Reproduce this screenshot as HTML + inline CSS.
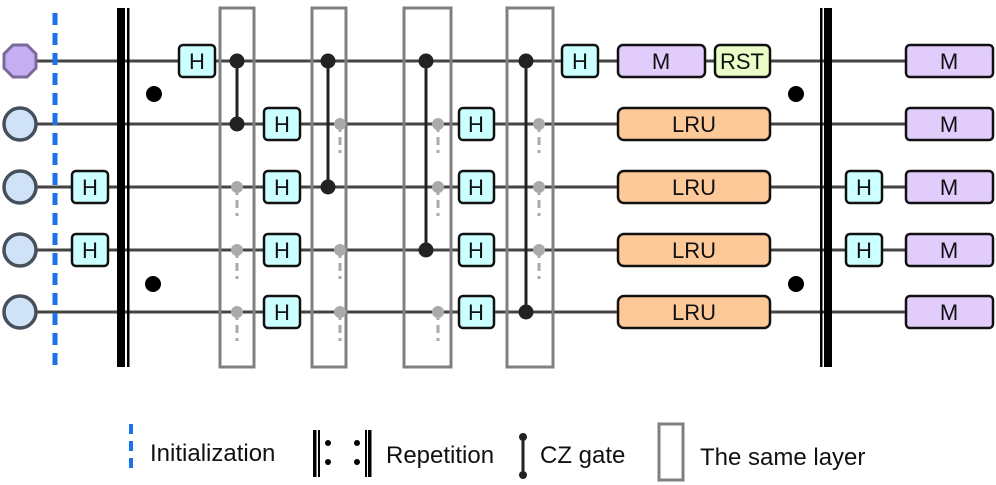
<!DOCTYPE html>
<html><head><meta charset="utf-8"><style>body{margin:0;background:#fff}svg{display:block}</style></head><body>
<svg width="996" height="485" viewBox="0 0 996 485" xmlns="http://www.w3.org/2000/svg" font-family="Liberation Sans, sans-serif">
<g stroke="#444" stroke-width="3">
<line x1="36" y1="61" x2="906" y2="61"/><line x1="36" y1="124" x2="906" y2="124"/><line x1="36" y1="187" x2="906" y2="187"/><line x1="36" y1="250" x2="906" y2="250"/><line x1="36" y1="312" x2="906" y2="312"/>
</g>
<polygon points="13,45 27,45 36,54 36,68 27,77 13,77 4,68 4,54" fill="#c6aef2" stroke="#7a6a9a" stroke-width="3"/>
<g fill="#cfe2f8" stroke="#46505a" stroke-width="3.5">
<circle cx="20" cy="124" r="16"/><circle cx="20" cy="187" r="16"/><circle cx="20" cy="250" r="16"/><circle cx="20" cy="312" r="16"/>
</g>
<line x1="55" y1="13" x2="55" y2="366" stroke="#1a73e8" stroke-width="5" stroke-dasharray="12,8"/>
<rect x="117" y="8" width="8" height="359" fill="#000"/><rect x="127" y="8" width="2.5" height="359" fill="#000"/>
<rect x="820" y="8" width="2.5" height="359" fill="#000"/><rect x="824" y="8" width="8" height="359" fill="#000"/>
<g fill="#000"><circle cx="154" cy="94" r="8"/><circle cx="153" cy="284" r="8"/><circle cx="796" cy="94" r="8"/><circle cx="796" cy="284" r="8"/></g>
<g fill="none" stroke="#808080" stroke-width="3">
<rect x="220" y="8" width="34" height="359"/><rect x="312" y="8" width="34" height="359"/><rect x="404" y="8" width="47" height="359"/><rect x="507" y="8" width="46" height="359"/>
</g>
<g stroke="#aaa" stroke-width="3" stroke-dasharray="8,5" fill="#aaa">
<line x1="237" y1="187" x2="237" y2="216"/><line x1="237" y1="250" x2="237" y2="279"/><line x1="237" y1="312" x2="237" y2="341"/>
<line x1="340" y1="124" x2="340" y2="153"/><line x1="340" y1="250" x2="340" y2="279"/><line x1="340" y1="312" x2="340" y2="341"/>
<line x1="438" y1="124" x2="438" y2="153"/><line x1="438" y1="187" x2="438" y2="216"/><line x1="438" y1="312" x2="438" y2="341"/>
<line x1="539" y1="124" x2="539" y2="153"/><line x1="539" y1="187" x2="539" y2="216"/><line x1="539" y1="250" x2="539" y2="279"/>
</g>
<g fill="#aaa">
<circle cx="237" cy="187" r="6"/><circle cx="237" cy="250" r="6"/><circle cx="237" cy="312" r="6"/>
<circle cx="340" cy="124" r="6"/><circle cx="340" cy="250" r="6"/><circle cx="340" cy="312" r="6"/>
<circle cx="438" cy="124" r="6"/><circle cx="438" cy="187" r="6"/><circle cx="438" cy="312" r="6"/>
<circle cx="539" cy="124" r="6"/><circle cx="539" cy="187" r="6"/><circle cx="539" cy="250" r="6"/>
</g>
<g stroke="#222" stroke-width="3" fill="#222">
<line x1="237" y1="61" x2="237" y2="124"/><circle cx="237" cy="61" r="6"/><circle cx="237" cy="124" r="6"/>
<line x1="328" y1="61" x2="328" y2="187"/><circle cx="328" cy="61" r="6"/><circle cx="328" cy="187" r="6"/>
<line x1="426" y1="61" x2="426" y2="250"/><circle cx="426" cy="61" r="6"/><circle cx="426" cy="250" r="6"/>
<line x1="526" y1="61" x2="526" y2="312"/><circle cx="526" cy="61" r="6"/><circle cx="526" cy="312" r="6"/>
</g>
<g font-size="22" text-anchor="middle">
<g fill="#ccffff" stroke="#111" stroke-width="2.5">
<rect x="179" y="45" width="36" height="32" rx="4"/><rect x="72" y="171" width="36" height="32" rx="4"/><rect x="72" y="234" width="36" height="32" rx="4"/>
<rect x="264" y="108" width="36" height="32" rx="4"/><rect x="264" y="171" width="36" height="32" rx="4"/><rect x="264" y="234" width="36" height="32" rx="4"/><rect x="264" y="296" width="36" height="32" rx="4"/>
<rect x="459" y="108" width="35" height="32" rx="4"/><rect x="459" y="171" width="35" height="32" rx="4"/><rect x="459" y="234" width="35" height="32" rx="4"/><rect x="459" y="296" width="35" height="32" rx="4"/>
<rect x="562" y="45" width="36" height="32" rx="4"/><rect x="846" y="171" width="36" height="32" rx="4"/><rect x="846" y="234" width="36" height="32" rx="4"/>
</g>
<g fill="#111">
<text x="197" y="69">H</text><text x="90" y="195">H</text><text x="90" y="258">H</text>
<text x="282" y="132">H</text><text x="282" y="195">H</text><text x="282" y="258">H</text><text x="282" y="320">H</text>
<text x="476" y="132">H</text><text x="476" y="195">H</text><text x="476" y="258">H</text><text x="476" y="320">H</text>
<text x="580" y="69">H</text><text x="864" y="195">H</text><text x="864" y="258">H</text>
</g>
<g stroke="#111" stroke-width="2.5">
<rect x="618" y="45" width="87" height="32" rx="5" fill="#e2ccfc"/>
<rect x="715" y="45" width="55" height="32" rx="5" fill="#eafcc8"/>
<rect x="618" y="108" width="152" height="32" rx="6" fill="#fdc998"/><rect x="618" y="171" width="152" height="32" rx="6" fill="#fdc998"/><rect x="618" y="234" width="152" height="32" rx="6" fill="#fdc998"/><rect x="618" y="296" width="152" height="32" rx="6" fill="#fdc998"/>
<rect x="906" y="45" width="87" height="32" rx="4" fill="#e2ccfc"/><rect x="906" y="108" width="87" height="32" rx="4" fill="#e2ccfc"/><rect x="906" y="171" width="87" height="32" rx="4" fill="#e2ccfc"/><rect x="906" y="234" width="87" height="32" rx="4" fill="#e2ccfc"/><rect x="906" y="296" width="87" height="32" rx="4" fill="#e2ccfc"/>
</g>
<g fill="#111">
<text x="661" y="69">M</text><text x="742" y="69">RST</text>
<text x="694" y="132">LRU</text><text x="694" y="195">LRU</text><text x="694" y="258">LRU</text><text x="694" y="320">LRU</text>
<text x="949" y="69">M</text><text x="949" y="132">M</text><text x="949" y="195">M</text><text x="949" y="258">M</text><text x="949" y="320">M</text>
</g>
</g>
<!-- legend -->
<line x1="131" y1="424" x2="131" y2="472" stroke="#1a73e8" stroke-width="4" stroke-dasharray="10,7"/>
<rect x="313" y="430" width="3.5" height="47" fill="#000"/><rect x="318" y="430" width="2" height="47" fill="#000"/>
<circle cx="328" cy="443" r="3"/><circle cx="328" cy="462" r="3"/>
<circle cx="357" cy="443" r="3"/><circle cx="357" cy="462" r="3"/>
<rect x="365" y="430" width="2" height="47" fill="#000"/><rect x="368" y="430" width="3.5" height="47" fill="#000"/>
<line x1="523" y1="437" x2="523" y2="475" stroke="#222" stroke-width="3"/><circle cx="523" cy="437" r="4" fill="#222"/><circle cx="523" cy="475" r="4" fill="#222"/>
<rect x="659" y="424" width="24" height="56" fill="none" stroke="#808080" stroke-width="3"/>
<g font-size="24" fill="#111">
<text x="150" y="461">Initialization</text><text x="386" y="463">Repetition</text><text x="540" y="463">CZ gate</text><text x="700" y="465">The same layer</text>
</g>
</svg>
</body></html>
